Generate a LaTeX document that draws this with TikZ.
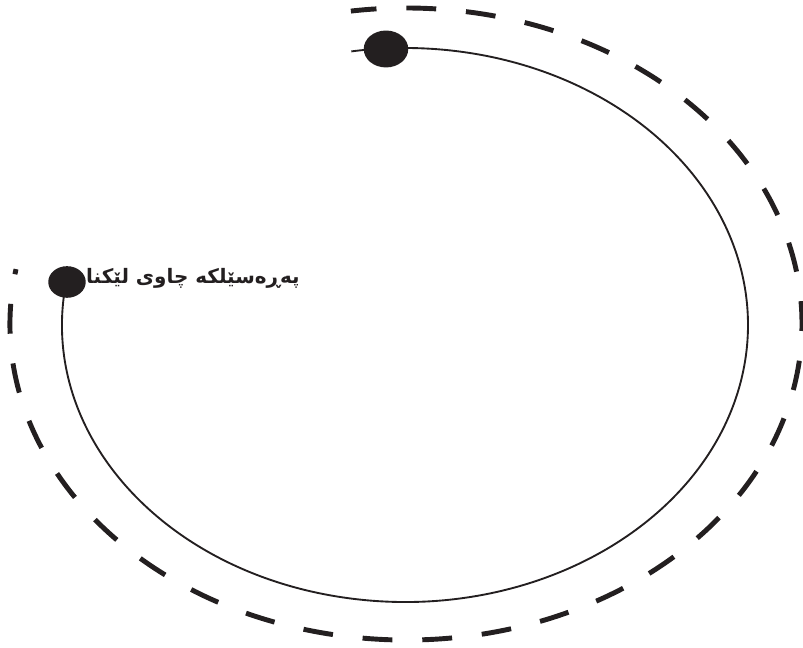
\documentclass[tikz,border=0pt]{standalone}
\usepackage{fontspec}
\usepackage{xcolor}
\usepackage{tikz}
\usetikzlibrary{shapes.geometric}
\newfontfamily\arabicfont[Script=Arabic]{DejaVu Sans}
\TeXXeTstate=1
\definecolor{ink}{RGB}{35,31,32}

\begin{document}
\begin{tikzpicture}[x=0.03cm,y=0.03cm,
    dot/.style={ellipse,fill=ink,draw=none,inner sep=0pt}]
  \useasboundingbox (0,0) rectangle (803,648);
  % outer dashed orbit
  \draw[color=ink,line width=4.2pt,dash pattern=on 25.5pt off 25.5pt,dash phase=21pt]
    (406,324) ++(170:396 and 316) arc[start angle=170,end angle=458,x radius=396,y radius=316];
  % inner orbit
  \draw[color=ink,line width=1.6pt]
    (405,323) ++(171:343 and 277) arc[start angle=171,end angle=459,x radius=343,y radius=277];
  \node[dot,minimum width=32pt,minimum height=27pt] (startdot) at (67,366) {};
  \node[dot,minimum width=38pt,minimum height=31.5pt] (enddot) at (386,599) {};
  \node[anchor=east,text=ink,inner sep=0pt] (caption) at (300,370)
    {\arabicfont\bfseries\fontsize{17}{20}\selectfont\hbox{\beginR پەڕەسێلکە چاوی لێکنا\endR}};
\end{tikzpicture}
\end{document}
